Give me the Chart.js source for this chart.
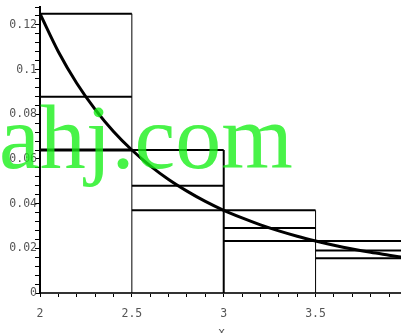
<!DOCTYPE html>
<html>
<head>
<meta charset="utf-8">
<script src="https://cdn.jsdelivr.net/npm/chart.js@4"></script>
<style>
  body { margin: 0; background: #fff; }
  #wrap { position: relative; width: 401px; height: 333px; overflow: hidden; }
  #mark {
    position: absolute; left: -1px; top: 91px;
    font-family: "Liberation Serif", serif; font-size: 92px; line-height: 1;
    color: rgba(20, 240, 20, 0.78); white-space: nowrap; pointer-events: none;
  }
  #xlab {
    position: absolute; left: 218px; top: 325px;
    font-family: "DejaVu Sans Mono", monospace; font-size: 12px; color: #555;
  }
</style>
</head>
<body>
<div id="wrap">
  <canvas id="myChart" width="401" height="333"></canvas>
  <div id="xlab">x</div>
  <div id="mark">ahj.com</div>
</div>
<script>
// curve
const curveX = [2.0, 2.1, 2.2, 2.3, 2.4, 2.5, 2.6, 2.7, 2.8, 2.9, 3.0, 3.1, 3.2, 3.3, 3.4, 3.5, 3.6, 3.7, 3.8, 3.9, 4.0];
const curveY = [0.125, 0.108, 0.0939, 0.0822, 0.0723, 0.064, 0.0569, 0.0508, 0.0456, 0.041, 0.037, 0.0336, 0.0305, 0.0278, 0.0254, 0.0233, 0.0214, 0.0197, 0.0182, 0.0169, 0.0156];

// rectangle edges and heights (left, right, middle)
const edges = [2, 2.5, 3, 3.5, 4];
const leftHeights = [0.125, 0.064, 0.037, 0.0233];
const rightHeights = [0.064, 0.037, 0.0233, 0.0156];
const midHeights = [0.0878, 0.048, 0.0291, 0.019];

const seg = (pts, w) => ({
    type: 'scatter',
    data: pts,
    showLine: true,
    borderColor: '#000',
    borderWidth: w,
    pointRadius: 0,
    fill: false
});

const datasets = [];
datasets.push({
    type: 'line',
    data: curveX.map((x, i) => ({ x: x, y: curveY[i] })),
    borderColor: '#000',
    borderWidth: 3,
    pointRadius: 0,
    cubicInterpolationMode: 'monotone',
    fill: false
});
[leftHeights, rightHeights, midHeights].forEach(hs => {
    hs.forEach((h, i) => {
        const w = (hs === rightHeights && i === 0) ? 3 : 2;
        datasets.push(seg([{ x: edges[i], y: h }, { x: edges[i + 1], y: h }], w));
    });
});
for (let i = 0; i < 3; i++) {
    datasets.push(seg([{ x: edges[i + 1], y: 0 }, { x: edges[i + 1], y: leftHeights[i] }], i === 1 ? 2 : 1));
}

const tickFont = { family: 'DejaVu Sans Mono', size: 11.5 };

const myChart = new Chart(document.getElementById('myChart').getContext('2d'), {
    type: 'scatter',
    data: { datasets: datasets },
    options: {
        responsive: false,
        devicePixelRatio: 1,
        animation: false,
        layout: { padding: { top: 7, right: 0, left: 0, bottom: 0 } },
        plugins: { legend: { display: false }, tooltip: { enabled: false } },
        scales: {
            x: {
                type: 'linear',
                min: 2,
                max: 3.965,
                afterFit: s => { s.height = 40; },
                grid: { drawOnChartArea: false, drawTicks: true, tickLength: 4, tickColor: '#000' },
                border: { display: true, color: '#333', width: 2 },
                ticks: {
                    stepSize: 0.1,
                    includeBounds: false,
                    autoSkip: false,
                    maxRotation: 0,
                    padding: 10,
                    color: '#555',
                    font: tickFont,
                    callback: v => Math.abs(v * 2 - Math.round(v * 2)) < 1e-6 ? String(parseFloat(v.toFixed(1))) : ''
                }
            },
            y: {
                min: 0,
                max: 0.128,
                afterFit: s => { s.width = 40; },
                grid: { drawOnChartArea: false, drawTicks: true, tickLength: 5, tickColor: '#000' },
                border: { display: true, color: '#000', width: 2 },
                ticks: {
                    stepSize: 0.004,
                    autoSkip: false,
                    padding: -2,
                    color: '#555',
                    font: tickFont,
                    callback: v => Math.abs(v * 50 - Math.round(v * 50)) < 1e-6 ? String(parseFloat(v.toFixed(2))) : ''
                }
            }
        }
    }
});
</script>
</body>
</html>
